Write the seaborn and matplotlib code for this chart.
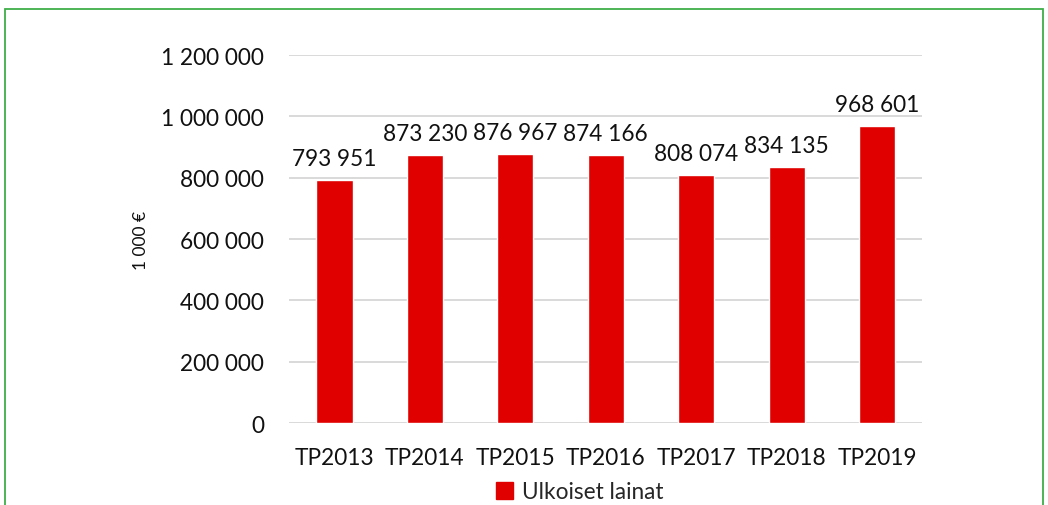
import numpy as np
import pandas as pd
import matplotlib
matplotlib.use("Agg")
import matplotlib.pyplot as plt
from matplotlib.patches import Patch, Rectangle
import seaborn as sns

years = ["TP2013", "TP2014", "TP2015", "TP2016", "TP2017", "TP2018", "TP2019"]
loans = [793951, 873230, 876967, 874166, 808074, 834135, 968601]
series_name = "Ulkoiset lainat"
y_label = "1 000 €"

RED = "#E00000"
FS = 16.3


def fi(v):
    return f"{int(round(v)):,}".replace(",", " ")


sns.set_theme(style="white")
plt.rcParams["font.family"] = ["Lato", "DejaVu Sans"]

df = pd.DataFrame({"year": years, "value": loans})

fig = plt.figure(figsize=(10.48, 5.06), dpi=100)
ax = fig.add_axes([0.276, 0.162, 0.604, 0.727])

# green frame round the chart area (bottom edge falls outside the picture)
fig.patches.append(Rectangle((5 / 1048, -0.05), 1038 / 1048, 1.05 - 10 / 506,
                             transform=fig.transFigure, fill=False,
                             edgecolor="#3FAE49", lw=1.3))

sns.barplot(data=df, x="year", y="value", color=RED, width=0.4,
            saturation=1, ax=ax, zorder=3)
ax.bar_label(ax.containers[0], labels=[fi(v) for v in loans],
             padding=8, fontsize=FS, color="#111111")

ax.set_ylim(0, 1200000)
ax.set_yticks(np.arange(0, 1200001, 200000))
ax.set_yticklabels([fi(v) for v in np.arange(0, 1200001, 200000)])
ax.grid(True, axis="y", color="#D9D9D9", lw=1.4, zorder=0)
ax.set_axisbelow(True)
for s in ax.spines.values():
    s.set_visible(False)
ax.tick_params(axis="both", length=0, labelsize=FS, colors="#111111")
ax.tick_params(axis="y", pad=18)
ax.tick_params(axis="x", pad=17)
ax.set_xlabel("")
ax.set_ylabel(y_label, fontsize=12.5, labelpad=9, color="#111111")

fig.legend(handles=[Patch(facecolor=RED, edgecolor=RED, label=series_name)],
           loc="center", bbox_to_anchor=(0.553, 0.026), frameon=False,
           fontsize=FS, handlelength=0.75, handleheight=0.75,
           handletextpad=0.4, borderpad=0)

fig.savefig("out.png", dpi=100)
